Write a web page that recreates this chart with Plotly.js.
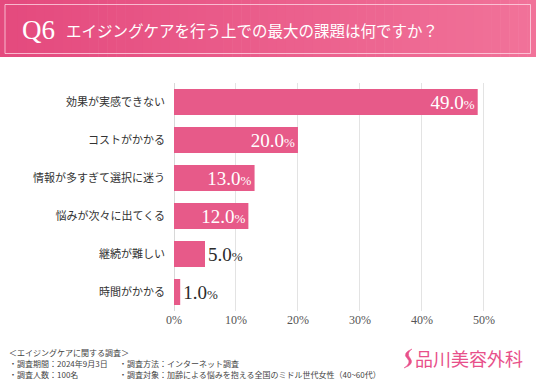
<!DOCTYPE html>
<html><head><meta charset="utf-8">
<script src="https://cdn.plot.ly/plotly-3.0.1.min.js"></script>
<style>html,body{margin:0;padding:0;background:#fff;}#chart{width:536px;height:383px;}</style>
</head><body><div id="chart"></div>
<script>
const categories = ['効果が実感できない','コストがかかる','情報が多すぎて選択に迷う','悩みが次々に出てくる','継続が難しい','時間がかかる'];
const values = [49.0, 20.0, 13.0, 12.0, 5.0, 1.0];
const tickVals = [0, 10, 20, 30, 40, 50];
const tickText = ['0%', '10%', '20%', '30%', '40%', '50%'];
const titleQ = 'Q6';
const titleText = 'エイジングケアを行う上での最大の課題は何ですか？';
const noteTitle = '＜エイジングケアに関する調査＞';
const noteLeft = ['・調査期間：2024年9月3日', '・調査人数：100名'];
const noteRight = ['・調査方法：インターネット調査', '・調査対象：加齢による悩みを抱える全国のミドル世代女性（40~60代）'];
const brand = '品川美容外科';

const W = 536, H = 383, L = 174, R = 49, T = 83, B = 72;
const pw = W - L - R, ph = H - T - B;
const X = px => (px - L) / pw;
const Y = py => (H - B - py) / ph;

const insideN = 4;
const labels = values.map(v => v.toFixed(1) + '<span style="font-size:13px">%</span>');
const positions = values.map((v, i) => i < insideN ? 'inside' : 'outside');
const colors = values.map((v, i) => i < insideN ? '#ffffff' : '#2b2b2b');

const trace = {
  type: 'bar', orientation: 'h',
  y: categories, x: values,
  marker: {color: '#e75a89'},
  text: labels, textposition: positions,
  insidetextanchor: 'end',
  textfont: {family: 'Liberation Serif, serif', size: 19, color: colors},
  constraintext: 'none', cliponaxis: false,
  hoverinfo: 'none'
};

// header gradient strips
const shapes = [];
const c0 = [228, 74, 126], c1 = [241, 114, 153];
const N = 60;
for (let i = 0; i < N; i++) {
  const t = i / (N - 1);
  const c = c0.map((a, k) => Math.round(a + (c1[k] - a) * t));
  shapes.push({type: 'rect', xref: 'paper', yref: 'paper', layer: 'below',
    x0: X(W * i / N), x1: X(W * (i + 1) / N + 0.6), y0: Y(0), y1: Y(57),
    fillcolor: `rgb(${c[0]},${c[1]},${c[2]})`, line: {width: 0}});
}
shapes.push({type: 'rect', xref: 'paper', yref: 'paper',
  x0: X(5), x1: X(530.5), y0: Y(4.5), y1: Y(53.5),
  line: {color: 'rgba(255,220,232,0.75)', width: 1}});
// logo swoosh
shapes.push({type: 'path', xref: 'paper', yref: 'paper',
  path: `M ${X(412)} ${Y(349)} Q ${X(402)} ${Y(353)} ${X(407)} ${Y(358)} Q ${X(412)} ${Y(363)} ${X(404)} ${Y(368)} Q ${X(415)} ${Y(364)} ${X(410)} ${Y(358)} Q ${X(406)} ${Y(353)} ${X(412)} ${Y(349)} Z`,
  fillcolor: '#e8508a', line: {color: '#e8508a', width: 0.5}});

const foot = {family: 'Noto Sans CJK JP', size: 8, color: '#444'};
const annotations = [
  {text: titleQ, x: X(21), y: Y(30), xanchor: 'left', yanchor: 'middle', font: {family: 'Liberation Serif, serif', size: 27, color: '#fff'}},
  {text: titleText, x: X(65), y: Y(30), xanchor: 'left', yanchor: 'middle', font: {family: 'Noto Sans CJK JP', size: 15.5, color: '#fff'}},
  {text: noteTitle, x: X(8), y: Y(352), xanchor: 'left', yanchor: 'middle', font: foot},
  {text: noteLeft[0], x: X(8), y: Y(363), xanchor: 'left', yanchor: 'middle', font: foot},
  {text: noteLeft[1], x: X(8), y: Y(374), xanchor: 'left', yanchor: 'middle', font: foot},
  {text: noteRight[0], x: X(118), y: Y(363), xanchor: 'left', yanchor: 'middle', font: foot},
  {text: noteRight[1], x: X(118), y: Y(374), xanchor: 'left', yanchor: 'middle', font: foot},
  {text: brand, x: X(414), y: Y(358), xanchor: 'left', yanchor: 'middle', font: {family: 'Noto Sans CJK JP', size: 18, color: '#e8508a'}}
].map(a => Object.assign({xref: 'paper', yref: 'paper', showarrow: false, borderpad: 0}, a));

const layout = {
  width: W, height: H,
  margin: {l: L, r: R, t: T, b: B, pad: 0},
  paper_bgcolor: '#fff', plot_bgcolor: '#fff',
  bargap: 0.316, showlegend: false,
  xaxis: {range: [0, 50.5], tickvals: tickVals, ticktext: tickText, showgrid: true,
    gridcolor: '#e3e3e3', gridwidth: 1, zeroline: true, zerolinecolor: '#d8d8d8', zerolinewidth: 1,
    showline: false, ticks: '', fixedrange: true,
    tickfont: {family: 'Liberation Serif, serif', size: 12, color: '#555'}},
  yaxis: {autorange: 'reversed', showgrid: false, zeroline: false, showline: false, ticks: '',
    ticklabelstandoff: 8, fixedrange: true,
    tickfont: {family: 'Noto Sans CJK JP', size: 11, color: '#333'}},
  shapes: shapes, annotations: annotations
};

Plotly.newPlot('chart', [trace], layout, {displayModeBar: false, staticPlot: true});
</script></body></html>
